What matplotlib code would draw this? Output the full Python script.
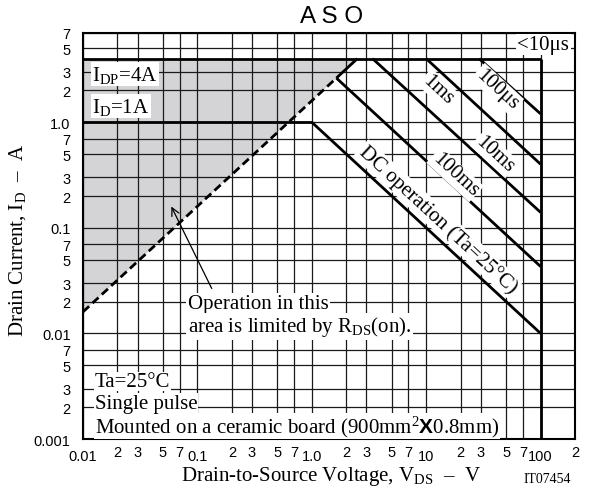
import matplotlib
matplotlib.use("Agg")
import matplotlib.pyplot as plt

plt.rcParams["mathtext.fontset"] = "custom"
plt.rcParams["mathtext.rm"] = "Liberation Serif"
plt.rcParams["mathtext.it"] = "Liberation Serif:italic"
plt.rcParams["mathtext.bf"] = "Liberation Sans:bold"

# --- Data ---
# axis ticks
x_major = [0.01, 0.1, 1, 10, 100]
x_major_labels = ["0.01", "0.1", "1.0", "10", "100"]
y_major = [0.001, 0.01, 0.1, 1]
y_major_labels = ["0.001", "0.01", "0.1", "1.0"]
mult = [2, 3, 5, 7]

# limit lines: VDS (V) and ID (A)
vds_idp = [0.01, 100]
id_idp = [4.0, 4.0]
vds_id = [0.01, 1.0]
id_id = [1.0, 1.0]
vds_vmax = [100, 100]
id_vmax = [4.0, 0.001]
vds_rds = [0.01, 1.64]
id_rds = [0.016, 2.62]
vds_rds_solid = [1.64, 2.5]
id_rds_solid = [2.62, 4.0]
vds_dc = [1.0, 100]
id_dc = [1.0, 0.01]
vds_100ms = [1.64, 100]
id_100ms = [2.62, 0.043]
vds_10ms = [3.4, 100]
id_10ms = [4.0, 0.14]
vds_1ms = [10, 100]
id_1ms = [4.0, 0.4]
vds_100us = [29, 100]
id_100us = [4.0, 1.2]

# shaded area limited by RDS(on)
shade_x = [0.01, 0.01, 2.5]
shade_y = [0.016, 4.0, 4.0]

serif = "Liberation Serif"
sans = "Liberation Sans"
white = dict(facecolor="white", edgecolor="none", pad=1.0)

fig = plt.figure(figsize=(5.99, 4.89), dpi=100)
ax = fig.add_axes([0.1386, 0.1002, 0.8214, 0.8303])
ax.set_xscale("log")
ax.set_yscale("log")
ax.set_xlim(0.01, 200)
ax.set_ylim(0.001, 7)

# ticks
x_minor = [m * d for d in x_major for m in mult if m * d <= 200.001]
y_minor = [m * d for d in y_major for m in mult if m * d <= 7.001]
ax.set_xticks(x_major)
ax.set_xticklabels(x_major_labels)
ax.set_xticks(x_minor, minor=True)
ax.set_xticklabels([str(m) for d in x_major for m in mult if m * d <= 200.001], minor=True)
ax.set_yticks(y_major)
ax.set_yticklabels(y_major_labels)
ax.set_yticks(y_minor, minor=True)
ax.set_yticklabels([str(m) for d in y_major for m in mult if m * d <= 7.001], minor=True)
ax.tick_params(which="both", length=0, labelsize=10.5)
ax.tick_params(axis="x", which="major", pad=7)
ax.tick_params(axis="x", which="minor", pad=4)
ax.tick_params(axis="y", which="both", pad=9)
for lab in ax.get_xticklabels(which="both") + ax.get_yticklabels(which="both"):
    lab.set_fontfamily(sans)

ax.set_axisbelow(True)
ax.grid(True, which="both", color="#1a1a1a", lw=0.9)
for s in ax.spines.values():
    s.set_linewidth(1.5)

# gray area
ax.fill(shade_x, shade_y, color="#d4d4d6", zorder=0.3, lw=0)

lw = 2.0
for xs, ys in [(vds_idp, id_idp), (vds_id, id_id), (vds_vmax, id_vmax),
               (vds_rds_solid, id_rds_solid), (vds_dc, id_dc),
               (vds_100ms, id_100ms), (vds_10ms, id_10ms),
               (vds_1ms, id_1ms), (vds_100us, id_100us)]:
    ax.plot(xs, ys, color="black", lw=lw, solid_capstyle="butt", zorder=2)
ax.plot(vds_rds, id_rds, color="black", lw=lw, dashes=(3, 1.6), zorder=2)

# line labels
ang = -42.7
fs = 15
for txt, x, y in [("100\u03bcs", 41.6, 2.06), ("1ms", 12.7, 2.06),
                  ("10ms", 40, 0.5), ("100ms", 17.9, 0.32),
                  ("DC operation (Ta=25\u00b0C)", 12.7, 0.121)]:
    ax.text(x, y, txt, rotation=ang, rotation_mode="anchor", ha="center",
            va="center", fontsize=fs, family=serif, bbox=white, zorder=3)

ax.text(178, 5.45, "<10\u03bcs", ha="right", va="center", fontsize=fs,
        family=serif, bbox=white, zorder=3)
ax.text(0.012, 2.86, r"I$_{\mathrm{DP}}$=4A", ha="left", va="center",
        fontsize=fs, family=serif, bbox=white, zorder=3)
ax.text(0.012, 1.42, r"I$_{\mathrm{D}}$=1A", ha="left", va="center",
        fontsize=fs, family=serif, bbox=white, zorder=3)

# RDS(on) note
ax.annotate("", xy=(0.0577, 0.168), xytext=(0.1368, 0.0252),
            arrowprops=dict(arrowstyle="->", color="black", lw=0.9,
                            mutation_scale=14), zorder=3)
ax.text(0.082, 0.019, "Operation in this", ha="left", va="center",
        fontsize=fs, family=serif, bbox=white, zorder=3)
ax.text(0.082, 0.0117, r"area is limited by R$_{\mathrm{DS}}$(on).", ha="left",
        va="center", fontsize=fs, family=serif, bbox=white, zorder=3)

# conditions (drawn bottom-up so upper lines sit on top)
tight = dict(facecolor="white", edgecolor="none", pad=0.3)
for txt, y, z in [(r"Mounted on a ceramic board (900mm$^{2}$$\mathbf{X}$0.8mm)", 0.00133, 3.0),
                  ("Single pulse", 0.00219, 3.1), ("Ta=25\u00b0C", 0.0035, 3.2)]:
    ax.text(0.0127, y, txt, ha="left", va="center", fontsize=fs,
            family=serif, bbox=tight, zorder=z)

# titles / labels
fig.text(0.553, 0.953, "A S O", ha="center", va="baseline", fontsize=17.5,
         family=sans)
fig.text(0.030, 0.509, "Drain Current, I$_{\\mathrm{D}}$  \u2013  A",
         rotation=90, ha="center", va="center", fontsize=fs, family=serif)
fig.text(0.553, 0.017, "Drain-to-Source Voltage, V$_{\\mathrm{DS}}$  \u2013  V",
         ha="center", va="baseline", fontsize=fs, family=serif)
fig.text(0.913, 0.012, "IT07454", ha="center", va="baseline", fontsize=10,
         family=serif)

fig.savefig("out.png", dpi=100)
